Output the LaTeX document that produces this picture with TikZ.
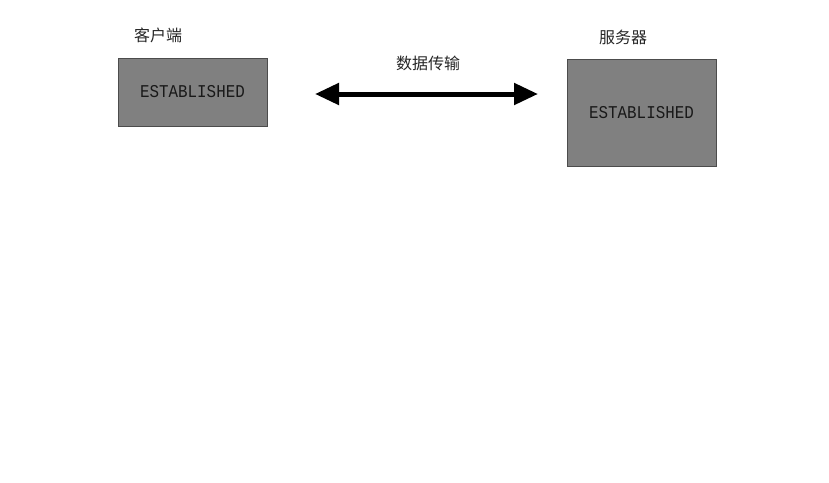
\documentclass[tikz,border=0pt]{standalone}
\usepackage{fontspec}
\newfontfamily\cjk{Noto Sans CJK SC}
\newfontfamily\monof{Liberation Mono}
\usetikzlibrary{arrows.meta}
\begin{document}
\begin{tikzpicture}[x=1pt,y=-1pt,
  statebox/.style={draw=black!70,line width=0.8pt,fill=black!50,inner sep=0pt},
  lbl/.style={font=\cjk\fontsize{16}{18}\selectfont,text=black!85,inner sep=0pt},
  st/.style={font=\monof\fontsize{18}{20}\selectfont,text=black!90,xscale=0.88,inner sep=0pt}]
\useasboundingbox (0,0) rectangle (829,482);
\node[statebox,minimum width=149pt,minimum height=68pt] (client) at (192.5,92) {};
\node[st] (ct) at (client.center) {ESTABLISHED};
\node[statebox,minimum width=149pt,minimum height=107pt] (server) at (641.5,112.5) {};
\node[st] (sv) at (server.center) {ESTABLISHED};
\node[lbl] (cl) at (158,35) {客户端};
\node[lbl] (sl) at (623,37) {服务器};
\node[lbl] (dl) at (428,63) {数据传输};
\coordinate (a1) at (315,94);
\coordinate (a2) at (538,94);
\draw[line width=5pt,{Triangle[length=24pt,width=21pt]}-{Triangle[length=24pt,width=21pt]}] (a1) -- (a2);
\end{tikzpicture}
\end{document}
